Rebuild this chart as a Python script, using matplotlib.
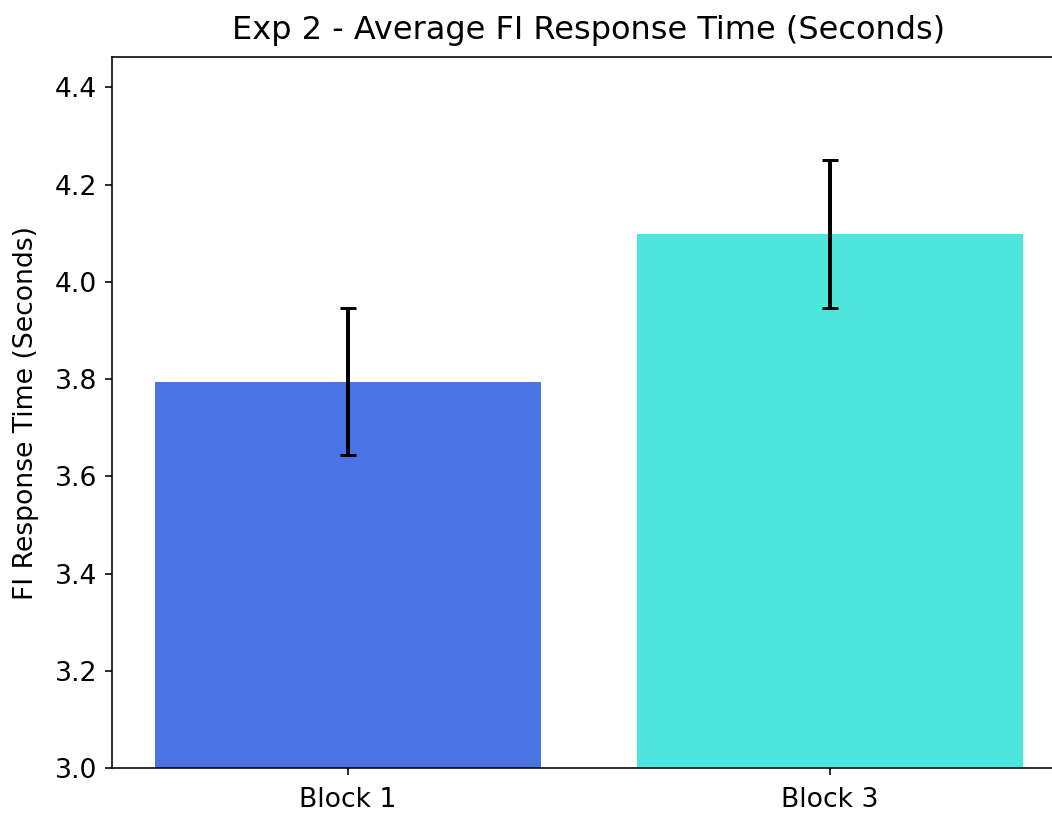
import matplotlib
matplotlib.use("Agg")
import matplotlib.pyplot as plt

# Mean FI response time per block and its error (seconds)
blocks = ["Block 1", "Block 3"]
mean_rt = [3.795, 4.098]
err_rt = [0.152, 0.152]
bar_colors = ["#4a74e4", "#4de6dc"]

plt.rcParams["font.size"] = 13.3
plt.rcParams["axes.titlesize"] = 16

fig = plt.figure(figsize=(1052 / 144, 813 / 144), dpi=144)
ax = fig.add_axes([0.1065, 0.0553, 0.9068, 0.8745])

x = list(range(len(blocks)))
ax.bar(x, mean_rt, width=0.8, color=bar_colors, yerr=err_rt,
       error_kw=dict(ecolor="black", elinewidth=2, capsize=4, capthick=1.5))

ax.set_xticks(x)
ax.set_xticklabels(blocks)
ax.tick_params(axis="x", pad=6)
ax.tick_params(axis="y", pad=4)
top = max(m + e for m, e in zip(mean_rt, err_rt)) * 1.05
ax.set_ylim(3.0, top)
ax.set_ylabel("FI Response Time (Seconds)", labelpad=8)
ax.set_title("Exp 2 - Average FI Response Time (Seconds)", pad=9)

fig.savefig("out.png", dpi=144)
